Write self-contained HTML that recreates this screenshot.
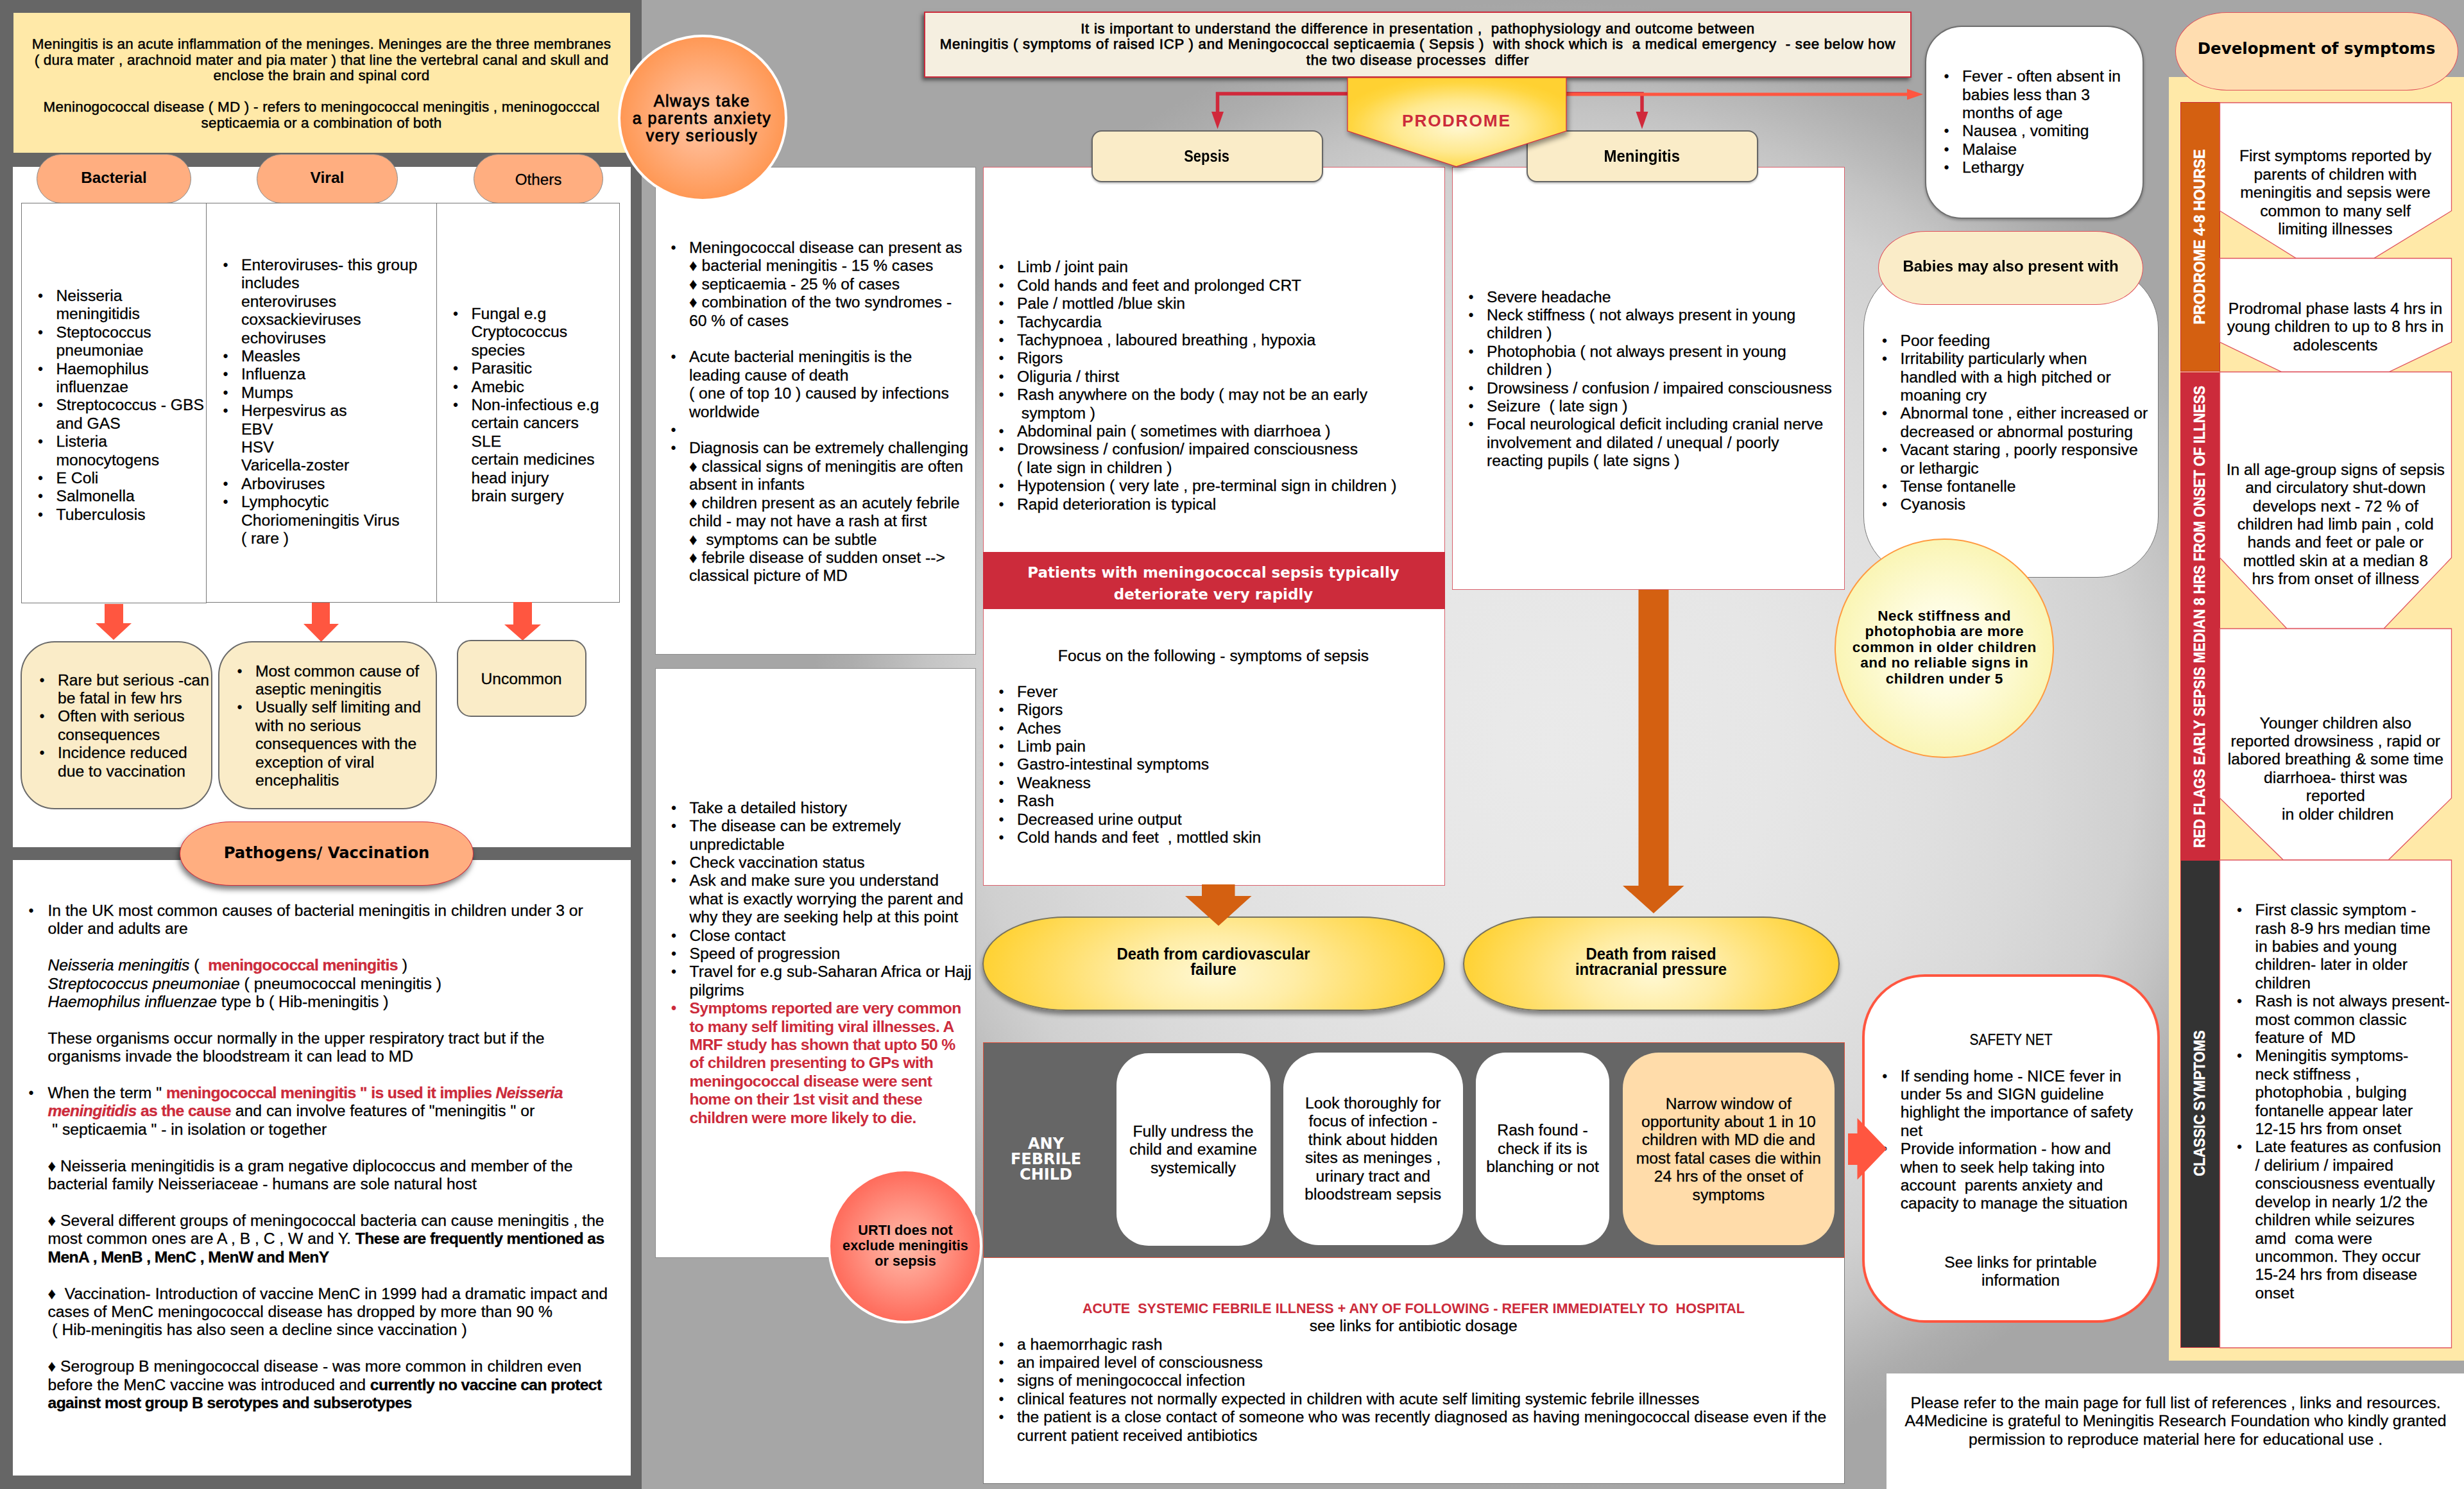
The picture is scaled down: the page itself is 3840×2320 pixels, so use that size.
<!DOCTYPE html>
<html lang="en"><head><meta charset="utf-8"><title>Meningitis and meningococcal disease</title>
<style>
*{margin:0;padding:0;box-sizing:border-box}
html,body{width:3840px;height:2320px;overflow:hidden}
body{position:relative;background:#a6a6a6;font-family:"Liberation Sans",sans-serif;color:#000}
#bg{position:absolute;left:1000px;top:0;width:2840px;height:2320px;background:radial-gradient(circle 1160px at 1422px 1160px,#eaeaea 0%,#e6e6e6 30%,#e0e0e0 50%,#d9d9d9 65%,#d0d0d0 78%,#c4c4c4 85%,#b8b8b8 90%,#adadad 95%,#a6a6a6 100%)}
#left{position:absolute;left:0;top:0;width:1000px;height:2320px;background:#666}
.b{position:absolute}
.w{position:absolute;background:#fff}
.t{position:absolute;white-space:nowrap;font-size:24.7px;line-height:28.4px;margin-top:2px;-webkit-text-stroke:0.3px currentColor}
.c{text-align:center;transform:translateX(-50%) scaleX(var(--sx,1))}
.li{position:relative}
.li>i{position:absolute;left:-28.5px;top:0;font-style:normal;font-size:23px;-webkit-text-stroke:0}
.bd{font-weight:bold;-webkit-text-stroke:0}
.t b,.t .bd{letter-spacing:-0.6px}
.red{color:#cc2b3b}
.dv{font-family:"DejaVu Sans","Liberation Sans",sans-serif;font-weight:bold;-webkit-text-stroke:0}
.pill{position:absolute;border-radius:999px;display:flex;align-items:center;justify-content:center;white-space:nowrap}
.vt{color:#fff;-webkit-text-stroke:0.5px #fff;font-size:24.4px;line-height:28px;transform:translate(-50%,-50%) rotate(-90deg) scaleX(var(--sx,1))}
svg{position:absolute;left:0;top:0;overflow:visible}
</style></head><body>
<div id="bg"></div>
<div id="left"></div>

<!-- LEFT PANEL -->
<div class="b" style="left:21px;top:20px;width:961px;height:218px;background:#ffe9a8"></div>
<div class="t c" style="left:501px;top:55px;font-size:22.5px;line-height:24.6px;-webkit-text-stroke:0.45px #000;letter-spacing:0.2px">Meningitis is an acute inflammation of the meninges. Meninges are the three membranes<br>( dura mater , arachnoid mater and pia mater ) that line the vertebral canal and skull and<br>enclose the brain and spinal cord<br><br>Meninogococcal disease ( MD ) - refers to meningococcal meningitis , meninogocccal<br>septicaemia or a combination of both</div>

<div class="w" style="left:20px;top:260px;width:963px;height:1059.500px"></div>
<div class="w" style="left:20px;top:1340px;width:963px;height:959px"></div>

<div class="pill bd" style="left:57px;top:240px;width:241px;height:76.500px;background:#ffae80;border:1.5px solid #8a8a8a;font-size:24.3px;padding-bottom:3px">Bacterial</div>
<div class="pill bd" style="left:400px;top:240px;width:220px;height:76.500px;background:#ffae80;border:1.5px solid #8a8a8a;font-size:24.6px;padding-bottom:3px">Viral</div>
<div class="pill" style="left:738px;top:240px;width:202px;height:76.500px;background:#ffae80;border:1.5px solid #8a8a8a;font-size:24.2px;-webkit-text-stroke:0.3px #000;padding-top:3px">Others</div>

<div class="b" style="left:33px;top:316px;width:289px;height:624px;border:1.5px solid #777;background:#fff"></div>
<div class="b" style="left:321px;top:316px;width:360px;height:623px;border:1.5px solid #777;background:#fff"></div>
<div class="b" style="left:680px;top:316px;width:286px;height:623px;border:1.5px solid #777;background:#fff"></div>

<div class="t" style="left:87.5px;top:445px">
<div class="li"><i>•</i>Neisseria<br>meningitidis</div>
<div class="li"><i>•</i>Steptococcus<br>pneumoniae</div>
<div class="li"><i>•</i>Haemophilus<br>influenzae</div>
<div class="li"><i>•</i>Streptococcus - GBS<br>and GAS</div>
<div class="li"><i>•</i>Listeria<br>monocytogens</div>
<div class="li"><i>•</i>E Coli</div>
<div class="li"><i>•</i>Salmonella</div>
<div class="li"><i>•</i>Tuberculosis</div>
</div>

<div class="t" style="left:376px;top:397px">
<div class="li"><i>•</i>Enteroviruses- this group<br>includes<br>enteroviruses<br>coxsackieviruses<br>echoviruses</div>
<div class="li"><i>•</i>Measles</div>
<div class="li"><i>•</i>Influenza</div>
<div class="li"><i>•</i>Mumps</div>
<div class="li"><i>•</i>Herpesvirus as<br>EBV<br>HSV<br>Varicella-zoster</div>
<div class="li"><i>•</i>Arboviruses</div>
<div class="li"><i>•</i>Lymphocytic<br>Choriomeningitis Virus<br>( rare )</div>
</div>

<div class="t" style="left:734.5px;top:473px">
<div class="li"><i>•</i>Fungal e.g<br>Cryptococcus<br>species</div>
<div class="li"><i>•</i>Parasitic</div>
<div class="li"><i>•</i>Amebic</div>
<div class="li"><i>•</i>Non-infectious e.g<br>certain cancers<br>SLE<br>certain medicines<br>head injury<br>brain surgery</div>
</div>

<svg width="1000" height="2320" viewBox="0 0 1000 2320">
<g fill="#ff5640">
<path d="M163 941H192V971H205L177 997L149 971H163Z"/>
<path d="M486 939H514V972H528L500.500 1000L473 972H486Z"/>
<path d="M800 938H829V973H843L814.500 998L786 973H800Z"/>
</g></svg>

<div class="b" style="left:32px;top:999px;width:299px;height:261.500px;background:#faecc8;border:2px solid #6a6a6a;border-radius:53px"></div>
<div class="b" style="left:340px;top:999px;width:340.500px;height:261.500px;background:#faecc8;border:2px solid #6a6a6a;border-radius:53px"></div>
<div class="b" style="left:711.500px;top:997px;width:202px;height:120px;background:#faecc8;border:2px solid #6a6a6a;border-radius:22px"></div>

<div class="t" style="left:90px;top:1043.500px">
<div class="li"><i>•</i>Rare but serious -can<br>be fatal in few hrs</div>
<div class="li"><i>•</i>Often with serious<br>consequences</div>
<div class="li"><i>•</i>Incidence reduced<br>due to vaccination</div>
</div>
<div class="t" style="left:398px;top:1029.500px">
<div class="li"><i>•</i>Most common cause of<br>aseptic meningitis</div>
<div class="li"><i>•</i>Usually self limiting and<br>with no serious<br>consequences with the<br>exception of viral<br>encephalitis</div>
</div>
<div class="t c" style="left:812.500px;top:1041.500px">Uncommon</div>

<div class="pill dv" style="left:280px;top:1279.500px;width:458px;height:100.500px;border-radius:80px / 50.25px;background:#ffae80;border:1.5px solid #d0293b;font-size:24.3px;box-shadow:-2px 6px 8px rgba(0,0,0,.5);padding-bottom:2px">Pathogens/ Vaccination</div>

<div class="t" style="left:74.500px;top:1403px">
<div class="li"><i style="left:-30px">•</i>In the UK most common causes of bacterial meningitis in children under 3 or<br>older and adults are<br><br><em>Neisseria meningitis</em> (&nbsp; <b class="red">meningococcal meningitis</b> )<br><em>Streptococcus pneumoniae</em> ( pneumococcal meningitis )<br><em>Haemophilus influenzae</em> type b ( Hib-meningitis )<br><br>These organisms occur normally in the upper respiratory tract but if the<br>organisms invade the bloodstream it can lead to MD<br><br></div>
<div class="li"><i style="left:-30px">•</i>When the term " <b class="red">meningococcal meningitis " is used it implies <em>Neisseria</em></b><br><b class="red"><em>meningitidis</em> as the cause</b> and can involve features of "meningitis " or<br>&nbsp;" septicaemia " - in isolation or together<br><br>♦ Neisseria meningitidis is a gram negative diplococcus and member of the<br>bacterial family Neisseriaceae - humans are sole natural host<br><br>♦ Several different groups of meningococcal bacteria can cause meningitis , the<br>most common ones are A , B , C , W and Y. <b>These are frequently mentioned as</b><br><b>MenA , MenB , MenC , MenW and MenY</b><br><br>♦&nbsp; Vaccination- Introduction of vaccine MenC in 1999 had a dramatic impact and<br>cases of MenC meningococcal disease has dropped by more than 90 %<br>&nbsp;( Hib-meningitis has also seen a decline since vaccination )<br><br>♦ Serogroup B meningococcal disease - was more common in children even<br>before the MenC vaccine was introduced and <b>currently no vaccine can protect</b><br><b>against most group B serotypes and subserotypes</b></div>
</div>

<!-- MIDDLE COLUMN -->
<div class="w" style="left:1020.500px;top:260px;width:500.500px;height:760px;border:1px solid #8c8c8c"></div>
<div class="w" style="left:1020.500px;top:1040.500px;width:500.500px;height:919px;border:1px solid #8c8c8c"></div>

<div class="t" style="left:1074px;top:370px">
<div class="li"><i>•</i>Meningococcal disease can present as<br>♦ bacterial meningitis - 15 % cases<br>♦ septicaemia - 25 % of cases<br>♦ combination of the two syndromes -<br>60 % of cases<br><br></div>
<div class="li"><i>•</i>Acute bacterial meningitis is the<br>leading cause of death<br>( one of top 10 ) caused by infections<br>worldwide</div>
<div class="li"><i>•</i>&nbsp;</div>
<div class="li"><i>•</i>Diagnosis can be extremely challenging<br>♦ classical signs of meningitis are often<br>absent in infants<br>♦ children present as an acutely febrile<br>child - may not have a rash at first<br>♦&nbsp; symptoms can be subtle<br>♦ febrile disease of sudden onset --&gt;<br>classical picture of MD</div>
</div>

<div class="t" style="left:1074.500px;top:1242.800px">
<div class="li"><i>•</i>Take a detailed history</div>
<div class="li"><i>•</i>The disease can be extremely<br>unpredictable</div>
<div class="li"><i>•</i>Check vaccination status</div>
<div class="li"><i>•</i>Ask and make sure you understand<br>what is exactly worrying the parent and<br>why they are seeking help at this point</div>
<div class="li"><i>•</i>Close contact</div>
<div class="li"><i>•</i>Speed of progression</div>
<div class="li"><i>•</i>Travel for e.g sub-Saharan Africa or Hajj<br>pilgrims</div>
<div class="li red bd" style="letter-spacing:-0.65px"><i>•</i>Symptoms reported are very common<br>to many self limiting viral illnesses. A<br>MRF study has shown that upto 50 %<br>of children presenting to GPs with<br>meningococcal disease were sent<br>home on their 1st visit and these<br>children were more likely to die.</div>
</div>

<div class="b" style="left:962.500px;top:54px;width:264px;height:260px;border-radius:50%;border:4.5px solid #fff;background:radial-gradient(circle at 50% 50%,#ffc9a6 0%,#ffb488 30%,#ff9c5c 65%,#ff8a3d 90%,#ff8434 100%)"></div>
<div class="t c" style="left:1094px;top:141.500px;font-size:25px;line-height:27.2px;letter-spacing:1.55px;-webkit-text-stroke:0.85px #000">Always take<br>a parents anxiety<br>very seriously</div>

<div class="b" style="left:1290px;top:1820.500px;width:241px;height:241.500px;border-radius:50%;border:4.5px solid #fff;background:radial-gradient(circle at 50% 50%,#ffbcaa 0%,#ff9686 35%,#ff7262 65%,#ff5a48 90%,#ff5340 100%)"></div>
<div class="t c bd" style="left:1410.500px;top:1903px;font-size:22.5px;line-height:24.2px;--sx:.967">URTI does not<br>exclude meningitis<br>or sepsis</div>

<!-- SEPSIS / MENINGITIS BOXES -->
<div class="w" style="left:1531.500px;top:260px;width:720.500px;height:1120px;border:1.5px solid #d9606b"></div>
<div class="w" style="left:2263px;top:260px;width:612px;height:659px;border:1.5px solid #d9606b"></div>
<div class="b" style="left:1531.500px;top:860px;width:720px;height:89px;background:#cc2b3b"></div>
<div class="t c dv" style="left:1891px;top:872.500px;font-size:23px;line-height:34px;color:#fff">Patients with meningococcal sepsis typically<br>deteriorate very rapidly</div>

<div class="pill bd" style="left:1700.500px;top:202.500px;width:361px;height:81.500px;background:#faecc8;border:2px solid #666;border-radius:16px;font-size:25.8px;box-shadow:0 2px 3px rgba(0,0,0,.25)"><span style="display:inline-block;transform:scaleX(.85)">Sepsis</span></div>
<div class="pill bd" style="left:2378.500px;top:202.500px;width:361px;height:81.500px;background:#faecc8;border:2px solid #666;border-radius:16px;font-size:25.8px;box-shadow:0 2px 3px rgba(0,0,0,.25)"><span style="display:inline-block;transform:scaleX(.93)">Meningitis</span></div>


<!-- TOP INFO BOX + PRODROME -->
<div class="b" style="left:1440px;top:18px;width:1539px;height:103px;background:#f5efe0;border:2px solid #cc2b3b;box-shadow:-3px 4px 6px rgba(0,0,0,.5)"></div>
<svg width="3840" height="2320" viewBox="0 0 3840 2320">
<defs>
<radialGradient id="gp" cx="51%" cy="55%" r="58%"><stop offset="0" stop-color="#fff7d2"/><stop offset="0.5" stop-color="#ffe98f"/><stop offset="0.85" stop-color="#ffd640"/><stop offset="1" stop-color="#ffd130"/></radialGradient>
<filter id="sh" x="-10%" y="-10%" width="120%" height="130%"><feGaussianBlur in="SourceAlpha" stdDeviation="4"/><feOffset dx="2" dy="5"/><feComponentTransfer><feFuncA type="linear" slope="0.45"/></feComponentTransfer><feMerge><feMergeNode/><feMergeNode in="SourceGraphic"/></feMerge></filter>
</defs>
<g fill="none" stroke="#d0293b" stroke-width="5.5"><path d="M2100 146H1897.500V178"/><path d="M2441 146H2559V178"/></g>
<g fill="#d0293b"><path d="M1888 174H1907L1897.500 201Z"/><path d="M2549.500 174H2568.500L2559 201Z"/></g>
<path d="M2441 147H2975" stroke="#ff5640" stroke-width="5" fill="none"/>
<path d="M2972 138.500L2997 147L2972 155.500Z" fill="#ff5640"/>
<path d="M2100 121H2441V204L2269.500 259.500L2100 204Z" fill="url(#gp)" stroke="#d0293b" stroke-width="1.2" filter="url(#sh)"/>
</svg>
<div class="t c" style="left:2209.500px;top:30.500px;font-size:22.2px;line-height:24.5px;letter-spacing:0.75px;-webkit-text-stroke:0.75px #000">It is important to understand the difference in presentation ,&nbsp; pathophysiology and outcome between<br>Meningitis ( symptoms of raised ICP ) and Meningococcal septicaemia ( Sepsis )&nbsp; with shock which is&nbsp; a medical emergency&nbsp; - see below how<br>the two disease processes&nbsp; differ</div>
<div class="t c bd" style="left:2270px;top:169.500px;font-size:26.3px;line-height:32px;letter-spacing:1.9px;color:#cc2b3b">PRODROME</div>

<div class="t" style="left:1585px;top:400.300px">
<div class="li"><i>•</i>Limb / joint pain</div>
<div class="li"><i>•</i>Cold hands and feet and prolonged CRT</div>
<div class="li"><i>•</i>Pale / mottled /blue skin</div>
<div class="li"><i>•</i>Tachycardia</div>
<div class="li"><i>•</i>Tachypnoea , laboured breathing , hypoxia</div>
<div class="li"><i>•</i>Rigors</div>
<div class="li"><i>•</i>Oliguria / thirst</div>
<div class="li"><i>•</i>Rash anywhere on the body ( may not be an early<br>&nbsp;symptom )</div>
<div class="li"><i>•</i>Abdominal pain ( sometimes with diarrhoea )</div>
<div class="li"><i>•</i>Drowsiness / confusion/ impaired consciousness<br>( late sign in children )</div>
<div class="li"><i>•</i>Hypotension ( very late , pre-terminal sign in children )</div>
<div class="li"><i>•</i>Rapid deterioration is typical</div>
</div>

<div class="t c" style="left:1891px;top:1005.500px">Focus on the following - symptoms of sepsis</div>
<div class="t" style="left:1585px;top:1061.700px">
<div class="li"><i>•</i>Fever</div>
<div class="li"><i>•</i>Rigors</div>
<div class="li"><i>•</i>Aches</div>
<div class="li"><i>•</i>Limb pain</div>
<div class="li"><i>•</i>Gastro-intestinal symptoms</div>
<div class="li"><i>•</i>Weakness</div>
<div class="li"><i>•</i>Rash</div>
<div class="li"><i>•</i>Decreased urine output</div>
<div class="li"><i>•</i>Cold hands and feet&nbsp; , mottled skin</div>
</div>

<div class="t" style="left:2317px;top:446.500px">
<div class="li"><i>•</i>Severe headache</div>
<div class="li"><i>•</i>Neck stiffness ( not always present in young<br>children )</div>
<div class="li"><i>•</i>Photophobia ( not always present in young<br>children )</div>
<div class="li"><i>•</i>Drowsiness / confusion / impaired consciousness</div>
<div class="li"><i>•</i>Seizure&nbsp; ( late sign )</div>
<div class="li"><i>•</i>Focal neurological deficit including cranial nerve<br>involvement and dilated / unequal / poorly<br>reacting pupils ( late signs )</div>
</div>

<!-- DEATH PILLS -->
<div class="b" style="left:1531px;top:1427.500px;width:720.500px;height:147px;border-radius:130px / 73.5px;border:2px solid #77725e;background:radial-gradient(ellipse 50% 120% at 50% 62%,#fff8d2 0%,#ffeda6 35%,#ffe070 65%,#ffd234 100%);box-shadow:0 6px 7px rgba(0,0,0,.42)"></div>
<div class="b" style="left:2280px;top:1427.500px;width:587px;height:147px;border-radius:120px / 73.5px;border:2px solid #77725e;background:radial-gradient(ellipse 50% 120% at 50% 62%,#fff8d2 0%,#ffeda6 35%,#ffe070 65%,#ffd234 100%);box-shadow:0 6px 7px rgba(0,0,0,.42)"></div>
<div class="t c bd" style="left:1891px;top:1473px;font-size:25.5px;line-height:23.8px;letter-spacing:0;--sx:.936">Death from cardiovascular<br>failure</div>
<div class="t c bd" style="left:2572.500px;top:1473px;font-size:25.5px;line-height:23.8px;letter-spacing:0;--sx:.936">Death from raised<br>intracranial pressure</div>

<svg width="3840" height="2320" viewBox="0 0 3840 2320"><g fill="#d46011">
<path d="M2553.500 919H2600.500V1380H2624.500L2577 1423L2529 1380H2553.500Z"/>
<path d="M1873 1378H1924.500V1396H1950.500L1899 1442.500L1847 1396H1873Z"/>
</g>
</svg>
<!-- ANY FEBRILE CHILD -->
<div class="b" style="left:1531.500px;top:1624px;width:1343px;height:336px;background:#666;border:1.5px solid #e0503b"></div>
<div class="w" style="left:1739.500px;top:1640.500px;width:240.500px;height:300px;border-radius:50px"></div>
<div class="w" style="left:2000px;top:1640px;width:280px;height:300px;border-radius:55px"></div>
<div class="w" style="left:2300px;top:1640px;width:208px;height:300px;border-radius:46px"></div>
<div class="b" style="left:2528.500px;top:1640px;width:330.500px;height:300px;border-radius:56px;background:#ffdcaa"></div>
<div class="t c dv" style="left:1630px;top:1767.500px;font-size:24px;line-height:24.4px;color:#fff">ANY<br>FEBRILE<br>CHILD</div>
<div class="t c" style="left:1859.500px;top:1746.700px">Fully undress the<br>child and examine<br>systemically</div>
<div class="t c" style="left:2139.700px;top:1702.900px">Look thoroughly for<br>focus of infection -<br>think about hidden<br>sites as meninges ,<br>urinary tract and<br>bloodstream sepsis</div>
<div class="t c" style="left:2404px;top:1745.300px">Rash found -<br>check if its is<br>blanching or not</div>
<div class="t c" style="left:2693.800px;top:1703.600px">Narrow window of<br>opportunity about 1 in 10<br>children with MD die and<br>most fatal cases die within<br>24 hrs of the onset of<br>symptoms</div>

<!-- REFER BOX -->
<div class="w" style="left:1531.500px;top:1960px;width:1343.500px;height:351.500px;border:1px solid #777;border-top:none"></div>
<div class="t c bd red" style="left:2203px;top:2021.700px;font-size:22.9px;letter-spacing:0;--sx:.942">ACUTE&nbsp; SYSTEMIC FEBRILE ILLNESS + ANY OF FOLLOWING - REFER IMMEDIATELY TO&nbsp; HOSPITAL</div>
<div class="t c" style="left:2202.700px;top:2050.100px">see links for antibiotic dosage</div>
<div class="t" style="left:1585px;top:2078.500px">
<div class="li"><i>•</i>a haemorrhagic rash</div>
<div class="li"><i>•</i>an impaired level of consciousness</div>
<div class="li"><i>•</i>signs of meningococcal infection</div>
<div class="li"><i>•</i>clinical features not normally expected in children with acute self limiting systemic febrile illnesses</div>
<div class="li"><i>•</i>the patient is a close contact of someone who was recently diagnosed as having meningococcal disease even if the<br>current patient received antibiotics</div>
</div>

<!-- RIGHT SECTION -->
<div class="w" style="left:2999.500px;top:39.500px;width:341px;height:301px;border-radius:57px;border:2px solid #6e6e6e;box-shadow:0 2px 4px rgba(0,0,0,.3)"></div>
<div class="t" style="left:3058px;top:103.200px">
<div class="li"><i>•</i>Fever - often absent in<br>babies less than 3<br>months of age</div>
<div class="li"><i>•</i>Nausea , vomiting</div>
<div class="li"><i>•</i>Malaise</div>
<div class="li"><i>•</i>Lethargy</div>
</div>

<div class="w" style="left:2904px;top:416px;width:460px;height:483.500px;border-radius:95px;border:1.2px solid #777"></div>
<div class="pill bd" style="left:2926.500px;top:359.500px;width:413.500px;height:115px;border-radius:74px / 57.5px;background:#faecc8;border:1.5px solid #e0505a;font-size:24.5px;padding-bottom:5px"><span style="display:inline-block;transform:scaleX(.98)">Babies may also present with</span></div>
<div class="t" style="left:2961.600px;top:514.700px">
<div class="li"><i>•</i>Poor feeding</div>
<div class="li"><i>•</i>Irritability particularly when<br>handled with a high pitched or<br>moaning cry</div>
<div class="li"><i>•</i>Abnormal tone , either increased or<br>decreased or abnormal posturing</div>
<div class="li"><i>•</i>Vacant staring , poorly responsive<br>or lethargic</div>
<div class="li"><i>•</i>Tense fontanelle</div>
<div class="li"><i>•</i>Cyanosis</div>
</div>

<div class="b" style="left:2859px;top:838.500px;width:342px;height:342px;border-radius:50%;border:2px solid #ff9a40;background:radial-gradient(circle at 50% 50%,#fffff6 0%,#fefce0 30%,#fbf7c0 60%,#f9f3a6 85%,#f8f09c 100%)"></div>
<div class="t c bd" style="left:3030.200px;top:946px;font-size:22.6px;line-height:24.4px;letter-spacing:0.45px">Neck stiffness and<br>photophobia are more<br>common in older children<br>and no reliable signs in<br>children under 5</div>

<!-- DEVELOPMENT OF SYMPTOMS -->
<div class="b" style="left:3380px;top:120px;width:460px;height:2000px;background:#ffe9a8"></div>
<div class="pill dv" style="left:3389.500px;top:18.500px;width:441px;height:122px;border-radius:80px / 61px;background:#ffddb0;border:1.5px solid #e0505a;font-size:24.5px;padding-bottom:8px">Development of symptoms</div>
<div class="b" style="left:3398px;top:159px;width:62px;height:420px;background:#d46011;border:1.5px solid #cc2b3b"></div>
<div class="b" style="left:3398px;top:579.500px;width:62px;height:760.500px;background:#cc2b3b"></div>
<div class="b" style="left:3398px;top:1340px;width:62px;height:760px;background:#333;border:1.5px solid #cc2b3b"></div>
<svg width="3840" height="2320" viewBox="0 0 3840 2320"><g fill="#fff" stroke="#e05560" stroke-width="1.3">
<path d="M3459.500 160H3820.500V328.500L3699.500 402.500H3578.500L3459.500 328.500Z"/>
<path d="M3459.500 402.500H3820.500V533L3723 579.500H3556L3459.500 533Z"/>
<path d="M3459.500 579.500H3820.500V869L3715 979.500H3564L3459.500 869Z"/>
<path d="M3459.500 979.500H3820.500V1243.500L3722 1340H3558.500L3459.500 1243.500Z"/>
<path d="M3459.500 1340H3820.500V2100H3459.500Z"/>
</g></svg>
<div class="t c" style="left:3639.500px;top:227.400px">First symptoms reported by<br>parents of children with<br>meningitis and sepsis were<br>common to many self<br>limiting illnesses</div>
<div class="t c" style="left:3639.500px;top:464.700px">Prodromal phase lasts 4 hrs in<br>young children to up to 8 hrs in<br>adolescents</div>
<div class="t c" style="left:3639.800px;top:715.700px">In all age-group signs of sepsis<br>and circulatory shut-down<br>develops next - 72 % of<br>children had limb pain , cold<br>hands and feet or pale or<br>mottled skin at a median 8<br>hrs from onset of illness</div>
<div class="t c" style="left:3639.800px;top:1110.500px">Younger children also<br>reported drowsiness , rapid or<br>labored breathing &amp; some time<br>diarrhoea- thirst was<br>reported<br>&nbsp;in older children</div>
<div class="t" style="left:3514.600px;top:1402.200px">
<div class="li"><i>•</i>First classic symptom -<br>rash 8-9 hrs median time<br>in babies and young<br>children- later in older<br>children</div>
<div class="li"><i>•</i>Rash is not always present-<br>most common classic<br>feature of&nbsp; MD</div>
<div class="li"><i>•</i>Meningitis symptoms-<br>neck stiffness ,<br>photophobia , bulging<br>fontanelle appear later<br>12-15 hrs from onset</div>
<div class="li"><i>•</i>Late features as confusion<br>/ delirium / impaired<br>consciousness eventually<br>develop in nearly 1/2 the<br>children while seizures<br>amd&nbsp; coma were<br>uncommon. They occur<br>15-24 hrs from disease<br>onset</div>
</div>
<div class="t bd vt" style="left:3427.700px;top:367.300px;--sx:.92">PRODROME 4-8 HOURSE</div>
<div class="t bd vt" style="left:3427.700px;top:958.700px;--sx:.874">RED FLAGS EARLY SEPSIS MEDIAN 8 HRS FROM ONSET OF ILLNESS</div>
<div class="t bd vt" style="left:3427.700px;top:1717.300px;--sx:.899">CLASSIC SYMPTOMS</div>

<!-- SAFETY NET -->
<div class="w" style="left:2902px;top:1518px;width:464px;height:543px;border-radius:98px;border:4.5px solid #ff5640"></div>
<div class="t c" style="left:3133.600px;top:1603.700px;--sx:.85">SAFETY NET</div>
<div class="t" style="left:2961.700px;top:1660.500px">
<div class="li"><i>•</i>If sending home - NICE fever in<br>under 5s and SIGN guideline<br>highlight the importance of safety<br>net</div>
<div class="li"><i>•</i>Provide information - how and<br>when to seek help taking into<br>account&nbsp; parents anxiety and<br>capacity to manage the situation</div>
</div>
<div class="t c" style="left:3149px;top:1950.700px">See links for printable<br>information</div>

<svg width="3840" height="2320" viewBox="0 0 3840 2320"><path d="M2880 1766H2894.500V1742L2940.500 1790L2894.500 1838V1815H2880Z" fill="#ff5640"/></svg>
<!-- FOOTER -->
<div class="w" style="left:2940px;top:2139.500px;width:900px;height:181px"></div>
<div class="t c" style="left:3390.600px;top:2169.700px">Please refer to the main page for full list of references , links and resources.<br>A4Medicine is grateful to Meningitis Research Foundation who kindly granted<br>permission to reproduce material here for educational use .</div>
</body></html>
